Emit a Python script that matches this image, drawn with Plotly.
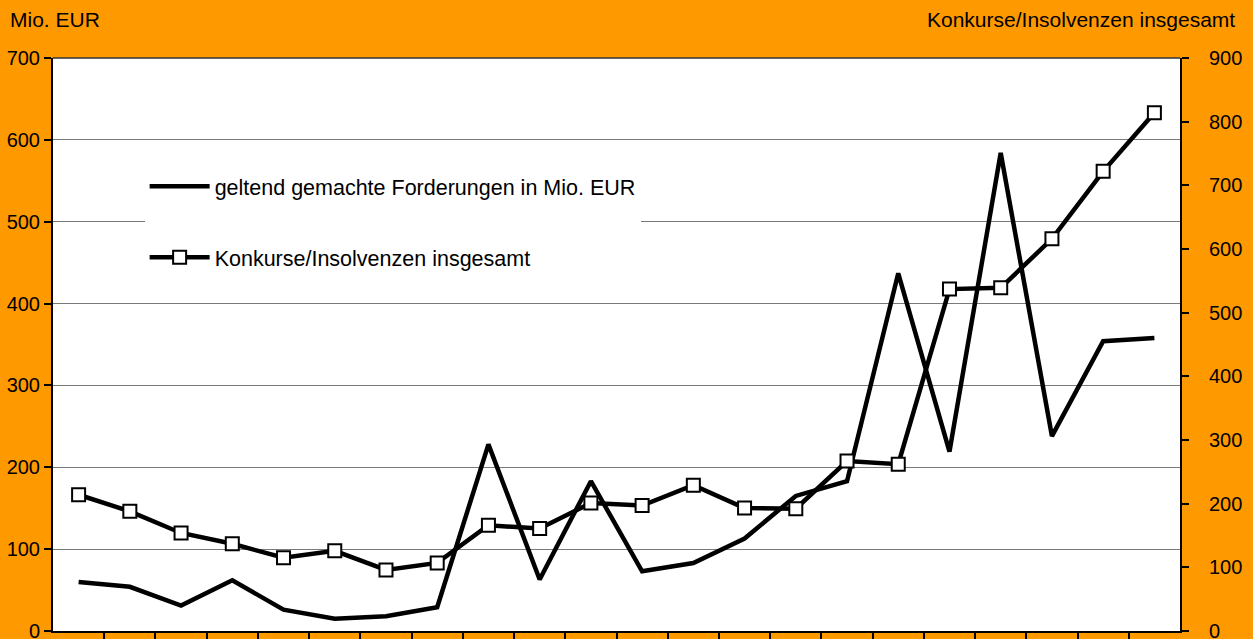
import plotly.graph_objects as go

# Periods along the horizontal axis (22 consecutive periods, not labelled)
periods = list(range(1, 23))

# Claims asserted, in million EUR (left axis)
forderungen = [60, 54, 31, 62, 26, 15, 18, 29, 228, 63, 183, 73, 83, 113,
               165, 183, 437, 219, 584, 238, 354, 358]

# Total bankruptcies / insolvencies (right axis)
insolvenzen = [214, 188, 154, 137, 115, 126, 96, 107, 166, 161, 201, 197,
               229, 193, 192, 267, 262, 537, 539, 616, 722, 814]

left_ticks = [0, 100, 200, 300, 400, 500, 600, 700]
right_ticks = [0, 100, 200, 300, 400, 500, 600, 700, 800, 900]

ORANGE = "#FF9900"
FONT = "Liberation Sans, Arial, sans-serif"

x_pos = list(range(len(periods)))

fig = go.Figure()

fig.add_trace(go.Scatter(
    x=x_pos, y=forderungen,
    mode="lines",
    name="geltend gemachte Forderungen in Mio. EUR",
    line=dict(color="black", width=4.5),
    legendgroup="a",
    yaxis="y",
))

fig.add_trace(go.Scatter(
    x=x_pos, y=insolvenzen,
    mode="lines+markers",
    name="Konkurse/Insolvenzen insgesamt",
    line=dict(color="black", width=4.5),
    marker=dict(symbol="square", size=13, color="white",
                line=dict(color="black", width=2)),
    legendgroup="b",
    yaxis="y2",
))

fig.update_layout(
    width=1253, height=639,
    margin=dict(l=53, r=73, t=58, b=8, autoexpand=False),
    paper_bgcolor=ORANGE,
    plot_bgcolor="white",
    font=dict(family=FONT, size=20, color="black"),
    showlegend=True,
    legend=dict(
        x=0.0813, y=0.812, xanchor="left", yanchor="top",
        bgcolor="white",
        font=dict(family=FONT, size=21.5, color="black"),
        traceorder="grouped",
        tracegroupgap=40,
        itemwidth=60,
        borderwidth=0,
    ),
    xaxis=dict(
        range=[-0.5, len(periods) - 0.5],
        tickvals=[i + 0.5 for i in range(len(periods) - 1)],
        showticklabels=False,
        ticks="outside", ticklen=9, tickwidth=2, tickcolor="black",
        showline=True, linecolor="black", linewidth=2,
        showgrid=False, zeroline=False,
        automargin=False,
        fixedrange=True,
    ),
    yaxis=dict(
        range=[0, 700],
        tickvals=left_ticks,
        ticks="outside", ticklen=7, tickwidth=2, tickcolor="black",
        ticklabeloverflow="allow",
        showline=True, linecolor="black", linewidth=2,
        showgrid=True, gridcolor="#7a7a7a", gridwidth=1,
        zeroline=False,
        automargin=False,
        tickfont=dict(family=FONT, size=20, color="black"),
    ),
    yaxis2=dict(
        range=[0, 900],
        tickvals=right_ticks,
        overlaying="y", side="right",
        ticks="outside", ticklen=7, tickwidth=2, tickcolor="black",
        ticklabelstandoff=16,
        ticklabeloverflow="allow",
        showline=True, linecolor="black", linewidth=2,
        showgrid=False, zeroline=False,
        automargin=False,
        tickfont=dict(family=FONT, size=20, color="black"),
    ),
    shapes=[
        dict(type="line", xref="paper", yref="paper",
             x0=0, x1=1, y0=1, y1=1,
             line=dict(color="#333333", width=1.5)),
    ],
    annotations=[
        dict(text="Mio. EUR", xref="paper", yref="paper",
             x=-45 / 1127, y=1 + 38 / 573, xanchor="left", yanchor="middle",
             showarrow=False, font=dict(family=FONT, size=21, color="black")),
        dict(text="Konkurse/Insolvenzen insgesamt", xref="paper", yref="paper",
             x=1 + 57 / 1127, y=1 + 38 / 573, xanchor="right", yanchor="middle",
             showarrow=False, font=dict(family=FONT, size=21, color="black")),
    ],
)

fig.write_html("out.html")
